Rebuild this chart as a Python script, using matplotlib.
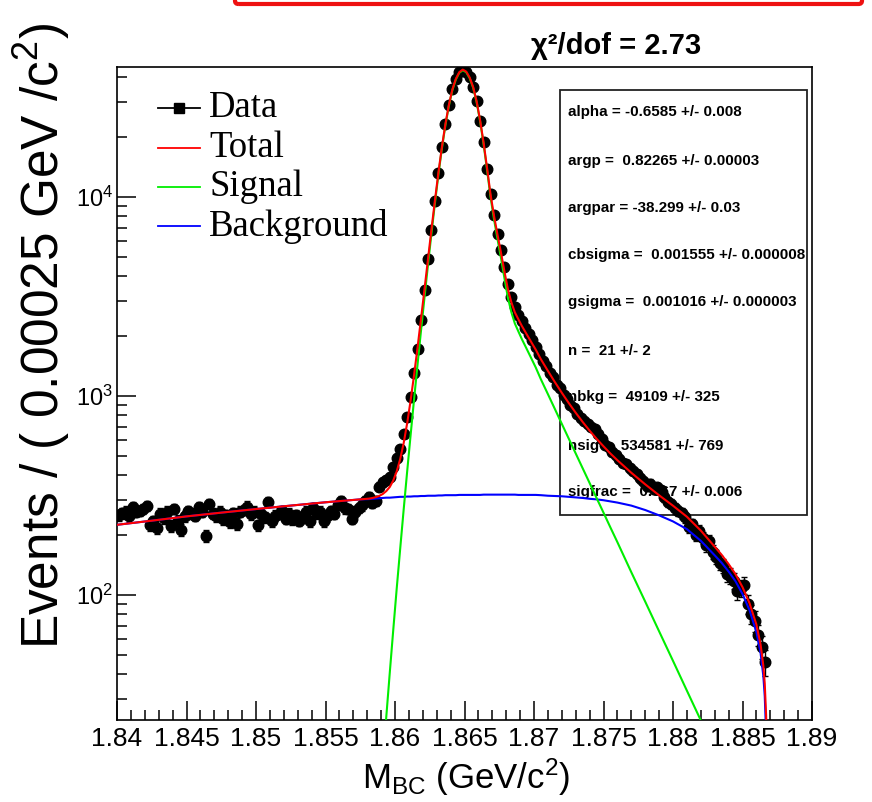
import numpy as np
import matplotlib
matplotlib.use("Agg")
import matplotlib.pyplot as plt
from matplotlib.lines import Line2D
from matplotlib.patches import Rectangle, FancyBboxPatch
from matplotlib.ticker import FixedLocator, FixedFormatter, LogLocator, NullFormatter

plt.rcParams['font.family'] = ['Liberation Sans', 'DejaVu Sans']
plt.rcParams['mathtext.fontset'] = 'custom'
plt.rcParams['mathtext.rm'] = 'Liberation Sans'
plt.rcParams['mathtext.it'] = 'Liberation Sans:italic'
plt.rcParams['mathtext.bf'] = 'Liberation Sans:bold'

# ---------------- data ----------------
x_min, x_max = 1.84, 1.89
bin_width = 0.00025

counts = [
    252, 258, 262, 248, 275, 262, 265, 270, 280, 224,
    235, 216, 256, 244, 262, 222, 270, 236, 212, 248,
    265, 256, 250, 276, 262, 198, 286, 256, 248, 262,
    240, 252, 232, 258, 228, 262, 268, 278, 254, 262,
    224, 255, 246, 292, 234, 250, 256, 265, 242, 256,
    240, 252, 236, 246, 262, 234, 272, 258, 262, 234,
    248, 265, 256, 283, 298, 272, 270, 242, 262, 274,
    282, 298, 312, 290, 296, 350, 368, 378, 392, 438,
    490, 540, 640, 780, 985, 1300, 1720, 2420, 3420, 4850,
    6820, 9500, 13150, 17900, 23150, 29100, 34800, 39300, 42300, 43500,
    42500, 39900, 35500, 30300, 24100, 18800, 13900, 10300, 8100, 6500,
    5400, 4450, 3650, 3150, 2800, 2560, 2380, 2200, 2040, 1900,
    1760, 1620, 1500, 1420, 1310, 1240, 1130, 1090, 1010, 960,
    900, 865, 810, 775, 745, 720, 700, 680, 640, 610,
    568, 555, 522, 502, 482, 460, 455, 432, 420, 405,
    385, 372, 352, 362, 340, 348, 335, 310, 294, 286,
    272, 264, 258, 246, 220, 226, 200, 210, 194, 178,
    186, 165, 155, 145, 140, 128, 125, 118, 104, 108,
    112, 90, 80, 74, 63, 55, 46,
]

curve_x = [
    1.8400, 1.8425, 1.8450, 1.8475, 1.8500, 1.8525, 1.8550, 1.8575,
    1.858125, 1.858375, 1.858625, 1.858875, 1.859125, 1.859375, 1.859625, 1.859875,
    1.860125, 1.860375, 1.860625, 1.860875, 1.861125, 1.861375, 1.861625, 1.861875,
    1.862125, 1.862375, 1.862625, 1.862875, 1.863125, 1.863375, 1.863625, 1.863875,
    1.864125, 1.864375, 1.864625, 1.864875, 1.865125, 1.865375, 1.865625, 1.865875,
    1.866125, 1.866375, 1.866625, 1.866875, 1.867125, 1.867375, 1.867625, 1.867875,
    1.868125, 1.868375, 1.868625, 1.868875, 1.869125, 1.869375, 1.869625, 1.869875,
    1.870125, 1.8705, 1.8710, 1.8715, 1.8720, 1.8725, 1.8730, 1.8735,
    1.8740, 1.8745, 1.8750, 1.8755, 1.8760, 1.8770, 1.8780, 1.8790,
    1.8800, 1.8810, 1.8820, 1.8825, 1.8830, 1.8835, 1.8840, 1.8845,
    1.8850, 1.8855, 1.8860, 1.8863, 1.8865, 1.8866, 1.8867, 1.88675, 1.88678,
]

signal = [
    0, 0, 0, 0, 0, 0, 0, 0,
    1.58, 2.82, 4.94, 8.55, 14.6, 24.5, 40.7, 66.7,
    108, 171, 269, 417, 638, 966, 1445, 2140,
    3140, 4570, 6580, 9330, 12970, 17540, 22910, 28710,
    34360, 38900, 42070, 43350, 42340, 39490, 35330, 29880,
    23950, 18390, 13640, 9960, 7715, 6140, 4930, 3900,
    3110, 2630, 2310, 2110, 1930, 1780, 1640, 1510,
    1390, 1210, 1021, 860, 724, 610, 514, 433,
    365, 307, 259, 218, 184, 130, 92.5, 65.6,
    46.6, 33.0, 23.4, 19.7, 16.6, 14.0, 11.8, 9.9,
    8.4, 7.0, 5.9, 5.4, 5.0, 4.9, 4.7, 4.7, 4.6,
]

background = [
    225, 236, 248, 259, 270, 281, 292, 302,
    303, 304, 305, 306, 307, 308, 308, 309,
    310, 311, 311, 312, 312, 313, 313, 314,
    314, 315, 315, 315, 316, 316, 317, 317,
    317, 317, 318, 318, 318, 318, 318, 318,
    318, 319, 319, 319, 319, 319, 319, 319,
    319, 319, 319, 318, 318, 318, 318, 318,
    318, 317, 315, 314, 313, 311, 309, 307,
    304, 302, 299, 295, 291, 281, 267, 251,
    234, 214, 187, 172, 158, 145, 131, 117,
    101, 84, 65, 51, 39, 31, 20, 12, 5,
]

x_tick_values = [1.84, 1.845, 1.85, 1.855, 1.86, 1.865, 1.87, 1.875, 1.88, 1.885, 1.89]
x_tick_labels = ["1.84", "1.845", "1.85", "1.855", "1.86", "1.865", "1.87",
                 "1.875", "1.88", "1.885", "1.89"]

param_lines = [
    "alpha = -0.6585 +/- 0.008",
    "argp =  0.82265 +/- 0.00003",
    "argpar = -38.299 +/- 0.03",
    "cbsigma =  0.001555 +/- 0.000008",
    "gsigma =  0.001016 +/- 0.000003",
    "n =  21 +/- 2",
    "nbkg =  49109 +/- 325",
    "nsig =  534581 +/- 769",
    "sigfrac =  0.867 +/- 0.006",
]

legend_labels = ["Data", "Total", "Signal", "Background"]
legend_colors = ["black", "#ff0000", "#00ee00", "#0000ff"]

# ---------------- figure ----------------
W, H = 872, 802
fig = plt.figure(figsize=(W / 100, H / 100), dpi=100)

def fx(px):
    return px / W

def fy(py):
    return 1 - py / H

ax_l, ax_r, ax_t, ax_b = 117, 812, 67, 720
ax = fig.add_axes([fx(ax_l), fy(ax_b), (ax_r - ax_l) / W, (ax_b - ax_t) / H])

counts_arr = np.array(counts, dtype=float)
centers = x_min + bin_width * (np.arange(len(counts_arr)) + 0.5)
sig_arr = np.array(signal, dtype=float)
bkg_arr = np.array(background, dtype=float)
tot_arr = sig_arr + bkg_arr
cx = np.array(curve_x)

ax.errorbar(centers, counts_arr, yerr=np.sqrt(counts_arr), fmt='o', color='black',
            ms=7.6, elinewidth=1.0, capsize=2.0, capthick=1.0, zorder=2)

ax.plot(cx, bkg_arr, color=legend_colors[3], lw=1.5, zorder=3)
mask = sig_arr > 0
ax.plot(cx[mask], sig_arr[mask], color=legend_colors[2], lw=1.5, zorder=3.1)
ax.plot(cx, tot_arr, color=legend_colors[1], lw=1.5, zorder=3.2)

ax.set_xlim(x_min, x_max)
ax.set_yscale('log')
ax.set_ylim(23.5, 45000)

ax.xaxis.set_major_locator(FixedLocator(x_tick_values))
ax.xaxis.set_major_formatter(FixedFormatter(x_tick_labels))
minor_x = [v for v in np.round(np.arange(1.84, 1.8901, 0.001), 4)
           if not np.any(np.isclose(v, x_tick_values))]
ax.xaxis.set_minor_locator(FixedLocator(minor_x))
ax.yaxis.set_major_locator(LogLocator(base=10, numticks=10))
ax.yaxis.set_minor_locator(LogLocator(base=10, subs=np.arange(2, 10), numticks=20))
ax.yaxis.set_minor_formatter(NullFormatter())

ax.tick_params(which='both', direction='in', top=False, right=False, width=1.1)
ax.tick_params(which='major', length=14)
ax.tick_params(which='minor', length=7)
ax.tick_params(axis='x', labelsize=19, pad=5)
ax.tick_params(axis='y', labelsize=17, pad=3)
for s in ax.spines.values():
    s.set_linewidth(1.2)

# axis titles
fig.text(fx(42), fy(336), r"Events / ( 0.00025 GeV /c$^{2}$)", rotation=90,
         ha='center', va='center', fontsize=37)
fig.text(fx(466), fy(777), r"M$_{\rm BC}$ (GeV/c$^{2}$)", ha='center', va='center',
         fontsize=25)
fig.text(fx(616), fy(46), "χ²/dof = 2.73", ha='center', va='center',
         fontsize=21, fontweight='bold')

# parameter box (under the data points)
ax.add_patch(Rectangle((fx(560), fy(515)), (807 - 560) / W, (515 - 90) / H,
                       transform=fig.transFigure, fill=False, ec='#222222', lw=1.3,
                       clip_on=False, zorder=1))
row_y = [112, 161, 208, 255, 302, 351, 397, 446, 492]
for txt, yy in zip(param_lines, row_y):
    ax.text(fx(568), fy(yy), txt, transform=fig.transFigure, ha='left', va='center',
            fontsize=10.9, fontweight='bold', zorder=1, clip_on=False)

# legend
leg_y = [108, 148, 187, 226]
for lab, col, yy in zip(legend_labels, legend_colors, leg_y):
    fig.add_artist(Line2D([fx(158), fx(200)], [fy(yy), fy(yy)], color=col, lw=1.3,
                          transform=fig.transFigure))
    if lab == "Data":
        fig.add_artist(Line2D([fx(179)], [fy(yy)], marker='s', ms=6.5, color='black',
                              transform=fig.transFigure))
    fig.text(fx(209), fy(yy), lab, ha='left', va='center', fontsize=26.5,
             family=['Liberation Serif', 'DejaVu Serif'])

# red frame edge at the very top
fig.add_artist(FancyBboxPatch((fx(235), fy(4)), (862 - 235) / W, 0.05,
                              boxstyle="round,pad=0,rounding_size=0.004",
                              transform=fig.transFigure, fc='none', ec='#ee1111', lw=3))

fig.savefig("out.png", dpi=100)
